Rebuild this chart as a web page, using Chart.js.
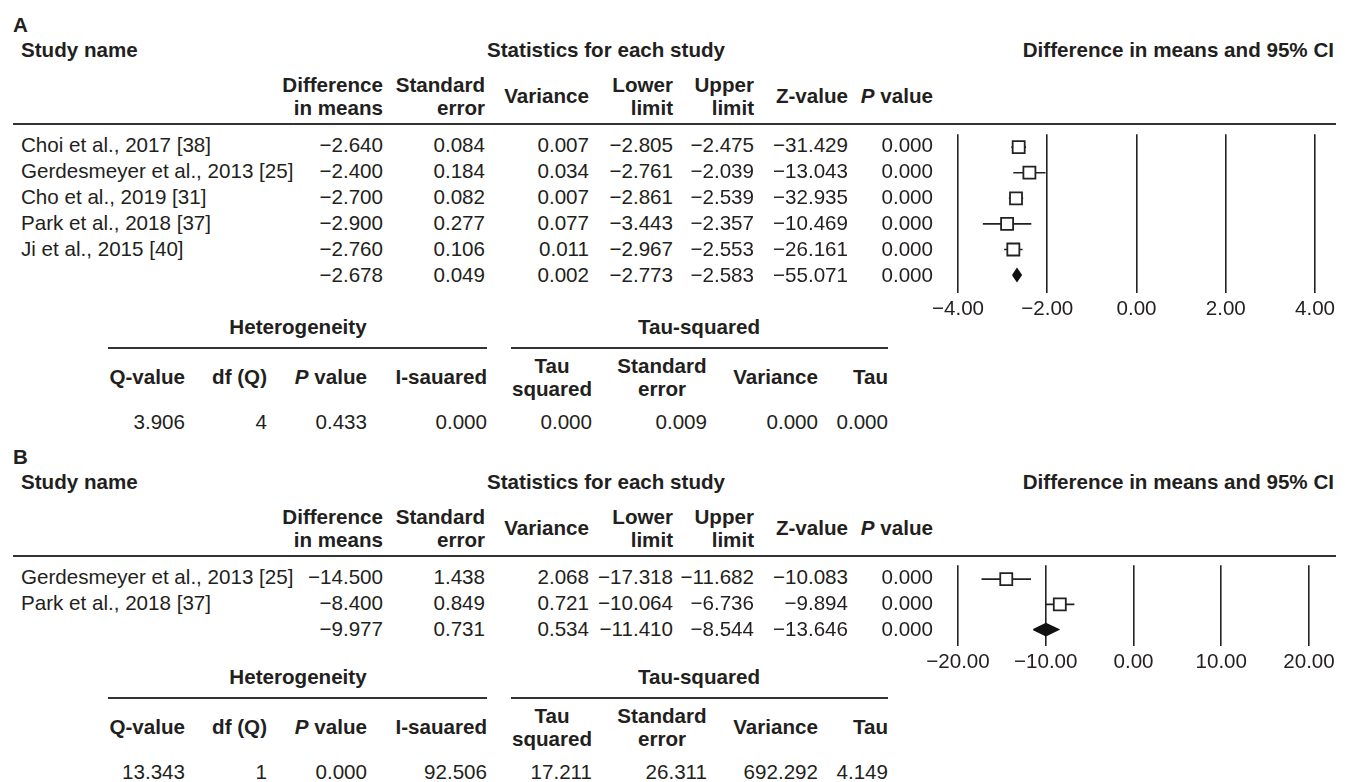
<!DOCTYPE html>
<html>
<head>
<meta charset="utf-8">
<script src="https://cdn.jsdelivr.net/npm/chart.js@4.4.1/dist/chart.umd.min.js"></script>
<style>
html, body { margin: 0; padding: 0; background: #fff; }
#page { position: relative; width: 1348px; height: 782px; overflow: hidden; background: #fff;
  font-family: 'Liberation Sans', Arial, sans-serif; font-size: 20.6px; color: #231f20; }
.t { position: absolute; white-space: nowrap; line-height: 0.8; }
.b { font-weight: bold; }
.rule { position: absolute; height: 2px; background: #333; }
canvas { position: absolute; }
</style>
</head>
<body>
<div id="page">
  <canvas id="forestA" width="448" height="206" style="left:900px; top:124px"></canvas>
  <canvas id="forestB" width="448" height="128" style="left:900px; top:555px"></canvas>
</div>
<script>
// ---- panel A data ----
const studiesA = ['Choi et al., 2017 [38]', 'Gerdesmeyer et al., 2013 [25]', 'Cho et al., 2019 [31]', 'Park et al., 2018 [37]', 'Ji et al., 2015 [40]', ''];
const diffA  = [-2.640, -2.400, -2.700, -2.900, -2.760, -2.678];
const seA    = [0.084, 0.184, 0.082, 0.277, 0.106, 0.049];
const varA   = [0.007, 0.034, 0.007, 0.077, 0.011, 0.002];
const lowerA = [-2.805, -2.761, -2.861, -3.443, -2.967, -2.773];
const upperA = [-2.475, -2.039, -2.539, -2.357, -2.553, -2.583];
const zA     = [-31.429, -13.043, -32.935, -10.469, -26.161, -55.071];
const pA     = [0.000, 0.000, 0.000, 0.000, 0.000, 0.000];
const hetA   = [3.906, 4, 0.433, 0.000];      // Q-value, df (Q), P value, I-squared
const tauA   = [0.000, 0.009, 0.000, 0.000];  // tau squared, standard error, variance, tau
const ticksA = [-4, -2, 0, 2, 4];

// ---- panel B data ----
const studiesB = ['Gerdesmeyer et al., 2013 [25]', 'Park et al., 2018 [37]', ''];
const diffB  = [-14.500, -8.400, -9.977];
const seB    = [1.438, 0.849, 0.731];
const varB   = [2.068, 0.721, 0.534];
const lowerB = [-17.318, -10.064, -11.410];
const upperB = [-11.682, -6.736, -8.544];
const zB     = [-10.083, -9.894, -13.646];
const pB     = [0.000, 0.000, 0.000];
const hetB   = [13.343, 1, 0.000, 92.506];
const tauB   = [17.211, 26.311, 692.292, 4.149];
const ticksB = [-20, -10, 0, 10, 20];

// column headings
const statHead = ['Difference<br>in means', 'Standard<br>error', 'Variance', 'Lower<br>limit', 'Upper<br>limit', 'Z-value', '<i>P</i> value'];
const hetHead = ['Q-value', 'df (Q)', '<i>P</i> value', 'I-sauared'];
const tauHead = ['Tau<br>squared', 'Standard<br>error', 'Variance', 'Tau'];

const colX = [383, 485, 589, 673, 754, 848, 933];
const hetX = [185, 267, 367, 487];
const tauX = [592, 707, 818, 888];
const tauC = [552, 662];

const page = document.getElementById('page');
const FONT = "'Liberation Sans', Arial, sans-serif";

function fmt(v, d) {
    return (v < 0 ? '\u2212' : '') + Math.abs(v).toFixed(d);
}

function txt(html, x, y, align, bold, lh) {
    let d = document.createElement('div');
    d.className = 't' + (bold ? ' b' : '');
    d.innerHTML = html;
    let tx = align == 'right' ? '-100%' : (align == 'center' ? '-50%' : '0');
    d.style.left = x + 'px';
    d.style.top = y + 'px';
    d.style.textAlign = align || 'left';
    if (lh) d.style.lineHeight = lh + 'px';
    d.style.transform = 'translate(' + tx + ', -50%)';
    page.appendChild(d);
}

function rule(x1, x2, y) {
    let d = document.createElement('div');
    d.className = 'rule';
    d.style.left = x1 + 'px';
    d.style.width = (x2 - x1) + 'px';
    d.style.top = (y - 1) + 'px';
    page.appendChild(d);
}

function panel(off, letter, names, cols, het, tau, hy) {
    txt(letter, 13, off + 25, 'left', true);
    txt('Study name', 21, off + 50, 'left', true);
    txt('Statistics for each study', 606, off + 50, 'center', true);
    txt('Difference in means and 95% CI', 1334, off + 50, 'right', true);
    statHead.forEach((h, j) => {
        let two = h.indexOf('<br>') >= 0;
        txt(h, colX[j], off + 96, 'right', true, two ? 23 : 0);
    });
    rule(13, 1336, off + 124);
    names.forEach((n, i) => {
        let y = off + 145 + 26 * i;
        txt(n, 21, y, 'left');
        cols.forEach((c, j) => txt(fmt(c[i], 3), colX[j], y, 'right'));
    });

    // heterogeneity / tau-squared block
    txt('Heterogeneity', 298, hy, 'center', true);
    txt('Tau-squared', 699, hy, 'center', true);
    rule(108, 487, hy + 21);
    rule(511, 888, hy + 21);
    hetHead.forEach((h, j) => txt(h, hetX[j], hy + 50, 'right', true));
    tauHead.forEach((h, j) => {
        if (h.indexOf('<br>') >= 0) {
            txt(h, tauC[j], hy + 50, 'center', true, 23);
        } else {
            txt(h, tauX[j], hy + 50, 'right', true);
        }
    });
    het.forEach((v, j) => txt(fmt(v, j == 1 ? 0 : 3), hetX[j], hy + 95, 'right'));
    tau.forEach((v, j) => txt(fmt(v, 3), tauX[j], hy + 95, 'right'));
}

panel(0, 'A', studiesA, [diffA, seA, varA, lowerA, upperA, zA, pA], hetA, tauA, 327);
panel(432, 'B', studiesB, [diffB, seB, varB, lowerB, upperB, zB, pB], hetB, tauB, 677);

function forest(id, diff, lower, upper, ticks, yMin, yMax, pad) {
    let n = diff.length - 1; // last row is the pooled estimate
    let datasets = [];
    datasets.push({
        data: diff.slice(0, n).map((d, i) => ({x: d, y: i})),
        pointStyle: 'rect',
        pointRadius: 8.5,
        backgroundColor: '#fff',
        borderColor: '#222',
        borderWidth: 1.8,
        showLine: false,
        order: 0
    });
    for (let i = 0; i < n; i++) {
        datasets.push({
            data: [{x: lower[i], y: i}, {x: upper[i], y: i}],
            showLine: true,
            borderColor: '#222',
            borderWidth: 1.6,
            pointRadius: 0,
            order: 1
        });
    }
    datasets.push({
        data: [{x: lower[n], y: n}, {x: diff[n], y: n - 0.24}, {x: upper[n], y: n}, {x: diff[n], y: n + 0.24}, {x: lower[n], y: n}],
        showLine: true,
        fill: 'shape',
        backgroundColor: '#111',
        borderColor: '#111',
        borderWidth: 1.5,
        pointRadius: 0,
        order: 0
    });

    return new Chart(document.getElementById(id).getContext('2d'), {
        type: 'scatter',
        data: { datasets: datasets },
        options: {
            responsive: false,
            animation: false,
            devicePixelRatio: 1,
            events: [],
            layout: { padding: pad },
            plugins: { legend: { display: false }, tooltip: { enabled: false } },
            scales: {
                x: {
                    type: 'linear',
                    min: ticks[0],
                    max: ticks[ticks.length - 1],
                    afterBuildTicks: s => { s.ticks = ticks.map(v => ({value: v})); },
                    afterFit: s => { s.height = 30; },
                    grid: { color: '#222', lineWidth: 1.6, drawTicks: false },
                    border: { display: false },
                    ticks: {
                        padding: 4,
                        color: '#231f20',
                        maxRotation: 0,
                        autoSkip: false,
                        font: { family: FONT, size: 20.6 },
                        callback: v => fmt(v, 2)
                    }
                },
                y: { type: 'linear', reverse: true, min: yMin, max: yMax, display: false }
            }
        }
    });
}

forest('forestA', diffA, lowerA, upperA, ticksA, -0.5, 5.7, {left: 58, right: 33, top: 8, bottom: 7});
forest('forestB', diffB, lowerB, upperB, ticksB, -0.55, 2.65, {left: 58, right: 39, top: 8, bottom: 7});
</script>
</body>
</html>
